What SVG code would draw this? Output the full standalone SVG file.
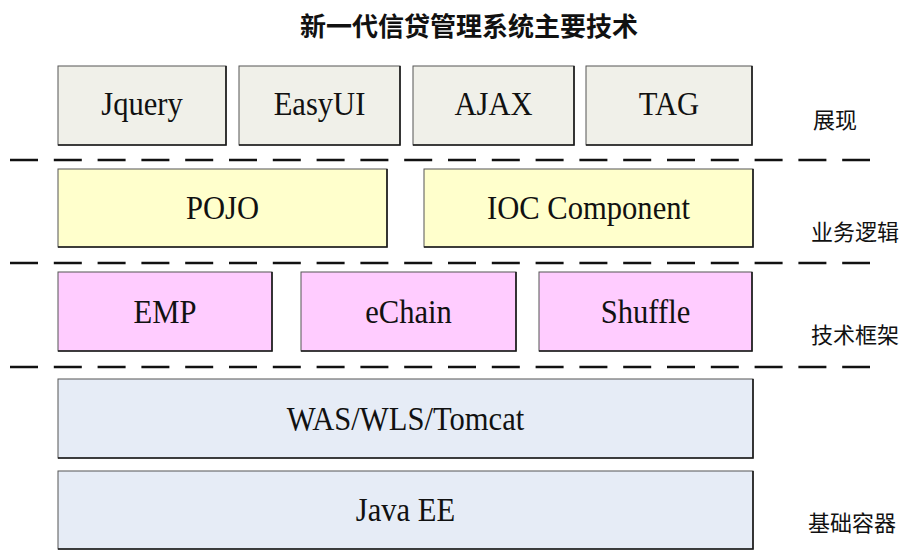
<svg xmlns="http://www.w3.org/2000/svg" width="907" height="552" viewBox="0 0 907 552">
<style>
.box{stroke:#555;stroke-width:1}
.sh{stroke:#1a1a1a;stroke-width:1.6;fill:none}
.r1{fill:#f0f0e9}
.r2{fill:#ffffcc}
.r3{fill:#ffccff}
.r4{fill:#e6ecf6}
.t{font-family:"Liberation Serif","Times New Roman",serif;font-size:34px;fill:#111;text-anchor:middle}
.lbl{font-family:"Noto Sans CJK SC",sans-serif;font-size:22px;fill:#111}
.title{font-family:"Noto Sans CJK SC",sans-serif;font-size:26px;font-weight:bold;fill:#111;text-anchor:middle}
.dash{stroke:#111;stroke-width:2.5;stroke-dasharray:28 15.8;fill:none}
</style>
<rect width="907" height="552" fill="#fff"/>
<text class="title" x="469" y="36">新一代信贷管理系统主要技术</text>
<g id="separators">
<line class="dash" x1="10" y1="160" x2="870" y2="160"/>
<line class="dash" x1="10" y1="263" x2="870" y2="263"/>
<line class="dash" x1="10" y1="367" x2="870" y2="367"/>
</g>
<g id="jquery"><rect class="box r1" x="58" y="66" width="168" height="79"/><polyline class="sh" points="58,145 226,145 226,66"/><text class="t" transform="matrix(0.9 0 0 1 142 115)">Jquery</text></g>
<g id="easyui"><rect class="box r1" x="239" y="66" width="161" height="79"/><polyline class="sh" points="239,145 400,145 400,66"/><text class="t" transform="matrix(0.9 0 0 1 319.5 115)">EasyUI</text></g>
<g id="ajax"><rect class="box r1" x="413" y="66" width="161" height="79"/><polyline class="sh" points="413,145 574,145 574,66"/><text class="t" transform="matrix(0.9 0 0 1 493.5 115)">AJAX</text></g>
<g id="tag"><rect class="box r1" x="586" y="66" width="166" height="79"/><polyline class="sh" points="586,145 752,145 752,66"/><text class="t" transform="matrix(0.9 0 0 1 669 115)">TAG</text></g>
<g id="pojo"><rect class="box r2" x="58" y="169" width="329" height="78"/><polyline class="sh" points="58,247 387,247 387,169"/><text class="t" transform="matrix(0.9 0 0 1 222.5 219)">POJO</text></g>
<g id="ioc"><rect class="box r2" x="424" y="169" width="329" height="78"/><polyline class="sh" points="424,247 753,247 753,169"/><text class="t" transform="matrix(0.9 0 0 1 588.5 219)">IOC Component</text></g>
<g id="emp"><rect class="box r3" x="58" y="272" width="214" height="79"/><polyline class="sh" points="58,351 272,351 272,272"/><text class="t" transform="matrix(0.9 0 0 1 165 323)">EMP</text></g>
<g id="echain"><rect class="box r3" x="301" y="272" width="215" height="79"/><polyline class="sh" points="301,351 516,351 516,272"/><text class="t" transform="matrix(0.9 0 0 1 408.5 323)">eChain</text></g>
<g id="shuffle"><rect class="box r3" x="539" y="272" width="213" height="79"/><polyline class="sh" points="539,351 752,351 752,272"/><text class="t" transform="matrix(0.9 0 0 1 645.5 323)">Shuffle</text></g>
<g id="was"><rect class="box r4" x="58" y="379" width="695" height="79"/><polyline class="sh" points="58,458 753,458 753,379"/><text class="t" transform="matrix(0.9 0 0 1 405.5 430)">WAS/WLS/Tomcat</text></g>
<g id="javaee"><rect class="box r4" x="58" y="471" width="695" height="78"/><polyline class="sh" points="58,549 753,549 753,471"/><text class="t" transform="matrix(0.9 0 0 1 405.5 521)">Java EE</text></g>
<g id="layer-labels">
<text class="lbl" x="813" y="128">展现</text>
<text class="lbl" x="811" y="240">业务逻辑</text>
<text class="lbl" x="811" y="343">技术框架</text>
<text class="lbl" x="808" y="531">基础容器</text>
</g>
</svg>
